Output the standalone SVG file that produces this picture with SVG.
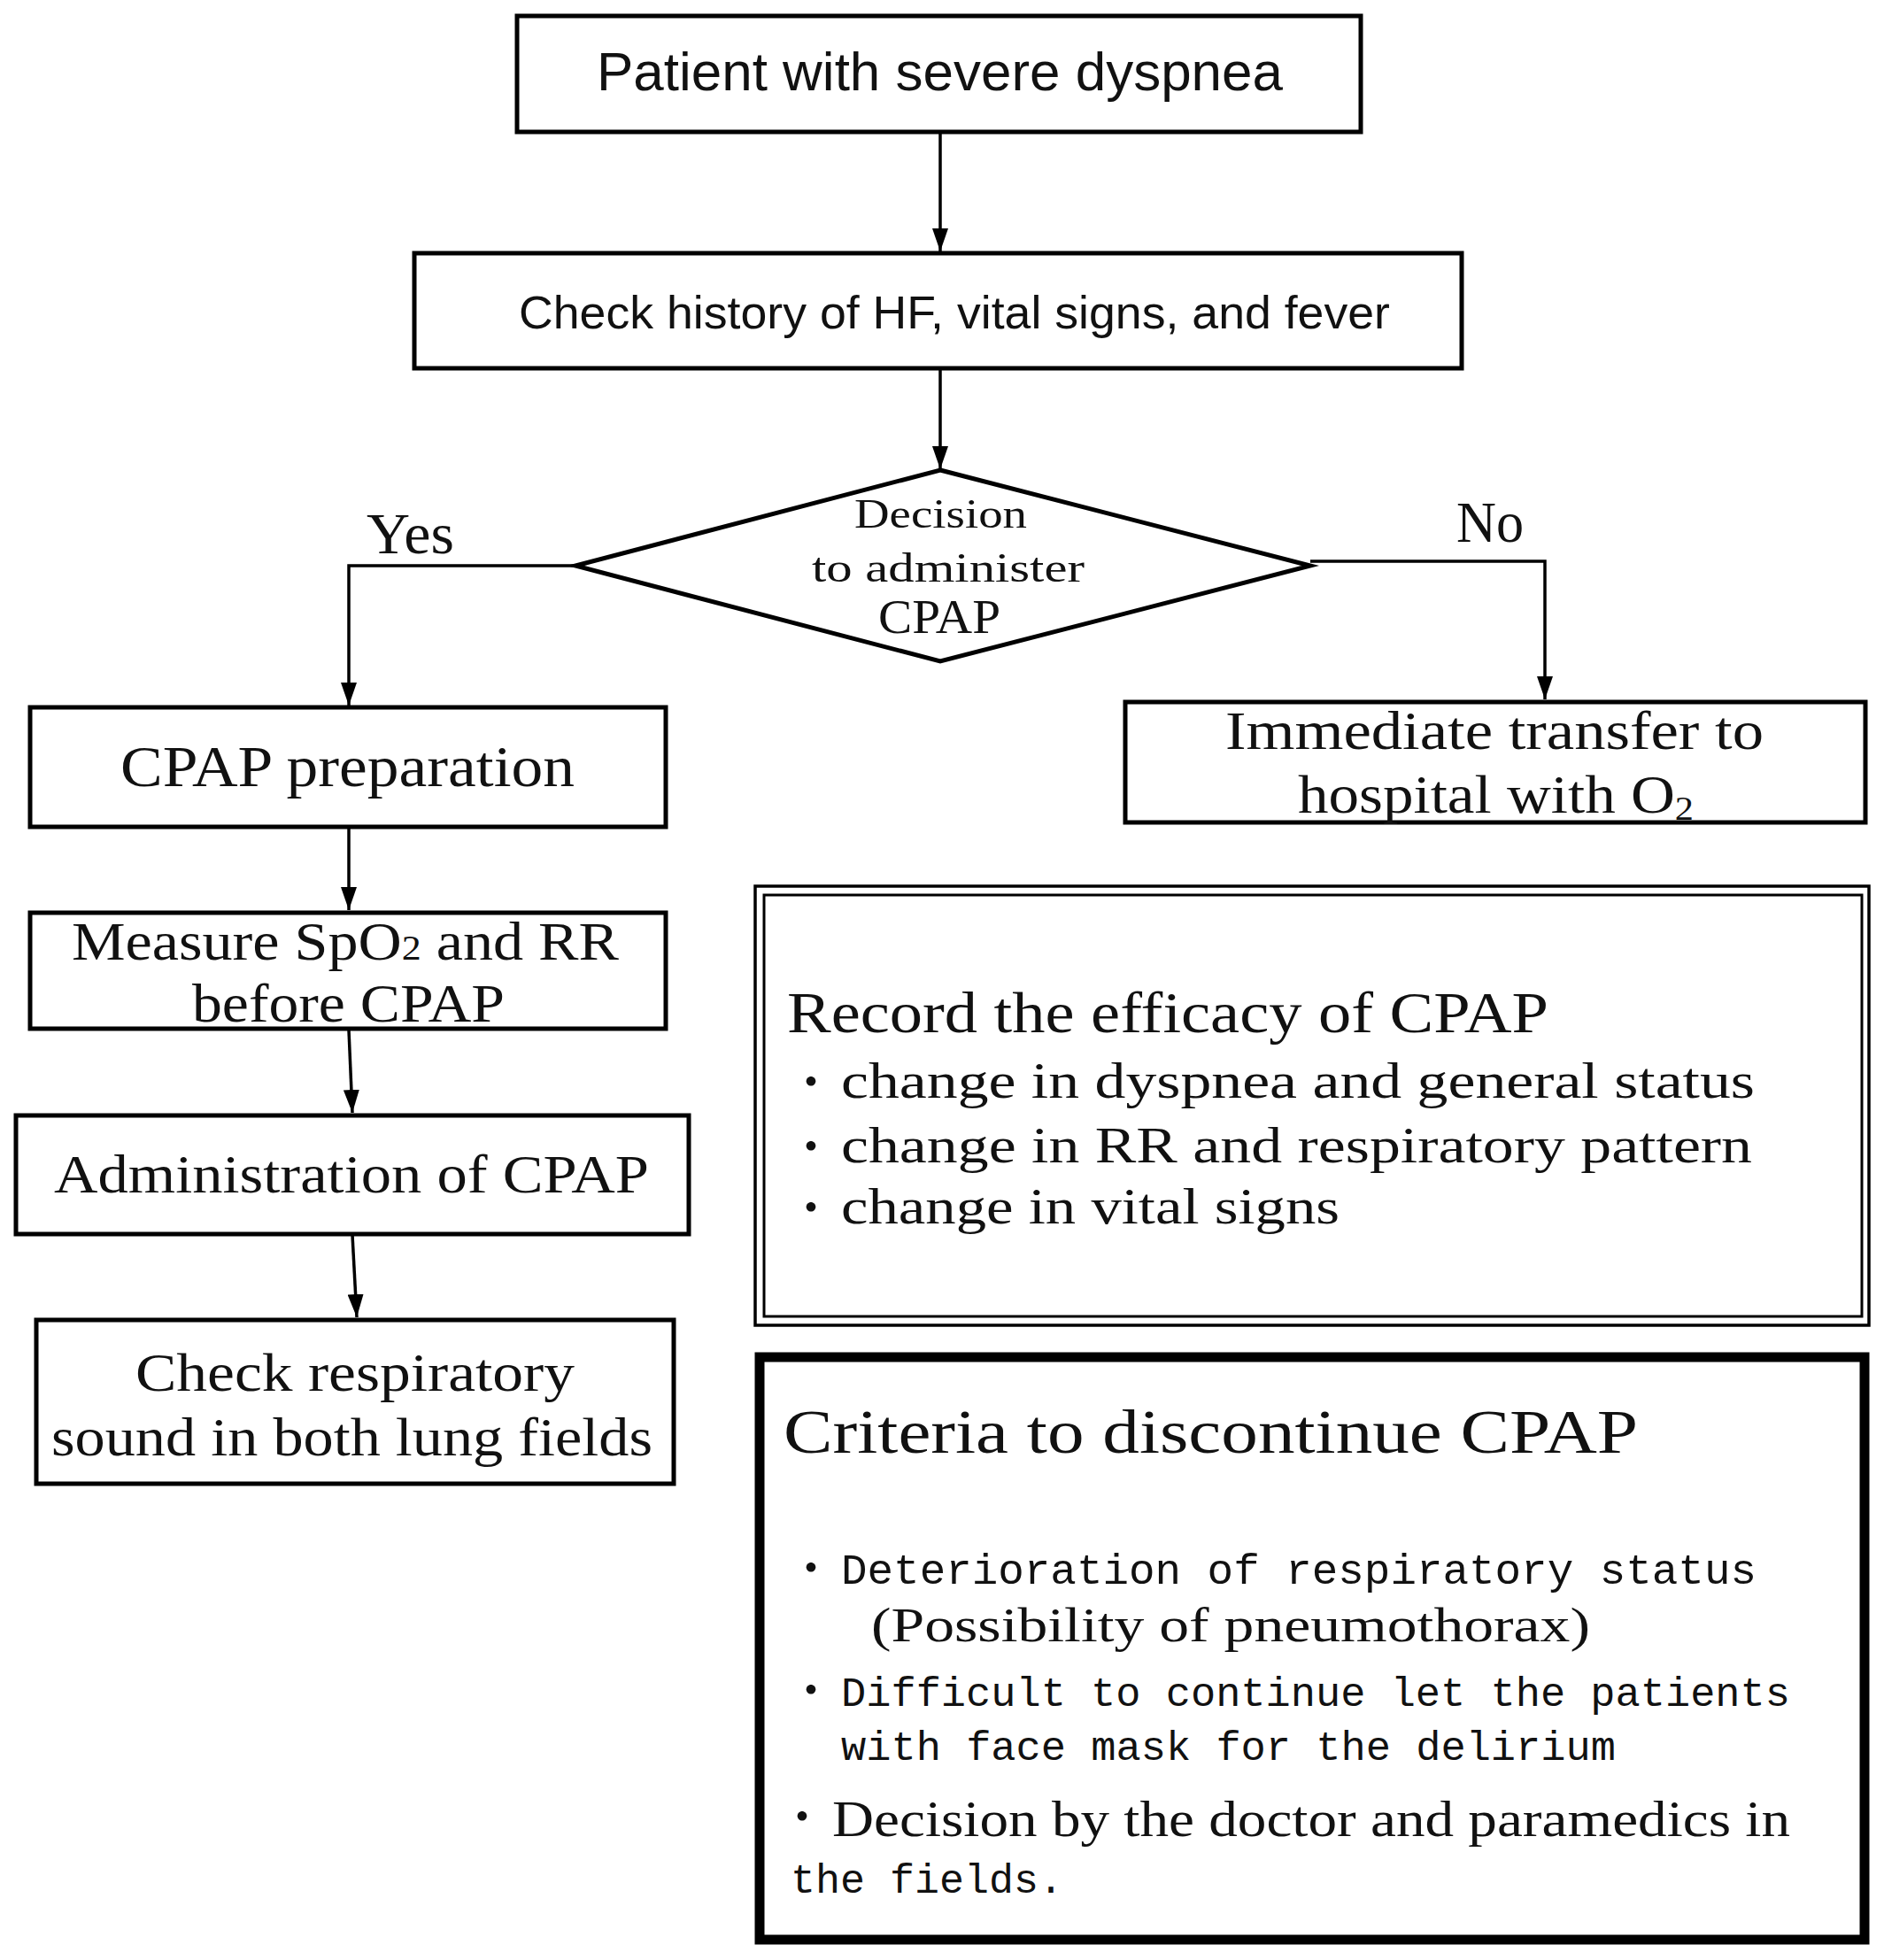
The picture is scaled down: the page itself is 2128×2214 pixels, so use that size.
<svg xmlns="http://www.w3.org/2000/svg" width="2128" height="2214" viewBox="0 0 2128 2214">
<style>
.box{fill:#fff;stroke:#000;stroke-width:5}
.ln{fill:none;stroke:#000;stroke-width:3.5}
.sans{font-family:"Liberation Sans","Noto Sans",sans-serif;fill:#111}
.serif{font-family:"Liberation Serif","DejaVu Serif",serif;fill:#111}
.mono{font-family:"Liberation Mono","DejaVu Sans Mono",monospace;fill:#111}
.dot{font-family:"Noto Sans CJK JP","Noto Sans",sans-serif;fill:#111;font-size:50px;text-anchor:middle}
</style>
<defs>
<marker id="ah" markerUnits="userSpaceOnUse" viewBox="0 0 26 18" refX="26" refY="9" markerWidth="26" markerHeight="18" orient="auto">
<path d="M0,0 L26,9 L0,18 z" fill="#000"/>
</marker>
</defs>
<rect width="2128" height="2214" fill="#fff"/>
<g id="connectors">
<line class="ln" x1="1062" y1="150" x2="1062" y2="284" marker-end="url(#ah)"/>
<line class="ln" x1="1062" y1="416" x2="1062" y2="530" marker-end="url(#ah)"/>
<polyline class="ln" points="650,639 394,639 394,797" marker-end="url(#ah)"/>
<polyline class="ln" points="1480,634 1745,634 1745,790" marker-end="url(#ah)"/>
<line class="ln" x1="394" y1="935" x2="394" y2="1028" marker-end="url(#ah)"/>
<line class="ln" x1="394" y1="1164" x2="398" y2="1257" marker-end="url(#ah)"/>
<line class="ln" x1="398" y1="1395" x2="403" y2="1488" marker-end="url(#ah)"/>
</g>
<g id="n1">
<rect class="box" x="584" y="18" width="953" height="131"/>
<text class="sans" x="674" y="102" font-size="61" textLength="775" lengthAdjust="spacingAndGlyphs">Patient with severe dyspnea</text>
</g>
<g id="n2">
<rect class="box" x="468" y="286" width="1183" height="130"/>
<text class="sans" x="586" y="371" font-size="52" textLength="984" lengthAdjust="spacingAndGlyphs">Check history of HF, vital signs, and fever</text>
</g>
<g id="n3">
<polygon class="box" points="1062,531 1480,639 1062,747 650,639"/>
<text class="serif" x="965" y="596" font-size="47" textLength="195" lengthAdjust="spacingAndGlyphs">Decision</text>
<text class="serif" x="917" y="657" font-size="47" textLength="308" lengthAdjust="spacingAndGlyphs">to administer</text>
<text class="serif" x="992" y="715" font-size="54" textLength="138" lengthAdjust="spacingAndGlyphs">CPAP</text>
</g>
<g id="labels">
<text class="serif" x="414" y="625" font-size="66" textLength="99" lengthAdjust="spacingAndGlyphs">Yes</text>
<text class="serif" x="1645" y="612" font-size="66" textLength="76" lengthAdjust="spacingAndGlyphs">No</text>
</g>
<g id="n4">
<rect class="box" x="34" y="799" width="718" height="135"/>
<text class="serif" x="136" y="888" font-size="66" textLength="513" lengthAdjust="spacingAndGlyphs">CPAP preparation</text>
</g>
<g id="n5">
<rect class="box" x="1271" y="793" width="836" height="136"/>
<text class="serif" x="1384" y="846" font-size="62" textLength="608" lengthAdjust="spacingAndGlyphs">Immediate transfer to</text>
<text class="serif" x="1466" y="918" font-size="62" textLength="447" lengthAdjust="spacingAndGlyphs">hospital with O<tspan font-size="38" dy="8">2</tspan></text>
</g>
<g id="n6">
<rect class="box" x="34" y="1031" width="718" height="131"/>
<text class="serif" x="81" y="1084" font-size="62" textLength="618" lengthAdjust="spacingAndGlyphs">Measure SpO<tspan font-size="40">2</tspan> and RR</text>
<text class="serif" x="217" y="1154" font-size="62" textLength="353" lengthAdjust="spacingAndGlyphs">before CPAP</text>
</g>
<g id="n7">
<rect class="box" x="18" y="1260" width="760" height="134"/>
<text class="serif" x="61" y="1347" font-size="61" textLength="672" lengthAdjust="spacingAndGlyphs">Administration of CPAP</text>
</g>
<g id="n8">
<rect class="box" x="41" y="1491" width="720" height="185"/>
<text class="serif" x="153" y="1571" font-size="61" textLength="496" lengthAdjust="spacingAndGlyphs">Check respiratory</text>
<text class="serif" x="58" y="1644" font-size="61" textLength="679" lengthAdjust="spacingAndGlyphs">sound in both lung fields</text>
</g>
<g id="n9">
<rect x="853" y="1001" width="1258" height="496" fill="#fff" stroke="#000" stroke-width="3.5"/>
<rect x="863" y="1011" width="1240" height="476" fill="none" stroke="#000" stroke-width="3"/>
<text class="serif" x="889" y="1166" font-size="65" textLength="860" lengthAdjust="spacingAndGlyphs">Record the efficacy of CPAP</text>
<text class="dot" x="916" y="1240">・</text>
<text class="serif" x="950" y="1240" font-size="58" textLength="1032" lengthAdjust="spacingAndGlyphs">change in dyspnea and general status</text>
<text class="dot" x="916" y="1313">・</text>
<text class="serif" x="950" y="1313" font-size="58" textLength="1029" lengthAdjust="spacingAndGlyphs">change in RR and respiratory pattern</text>
<text class="dot" x="916" y="1382">・</text>
<text class="serif" x="950" y="1382" font-size="58" textLength="563" lengthAdjust="spacingAndGlyphs">change in vital signs</text>
</g>
<g id="n10">
<rect x="858" y="1533" width="1248" height="658" fill="#fff" stroke="#000" stroke-width="11"/>
<text class="serif" x="885" y="1641" font-size="70" textLength="965" lengthAdjust="spacingAndGlyphs">Criteria to discontinue CPAP</text>
<text class="dot" x="916" y="1789">・</text>
<text class="mono" x="950" y="1789" font-size="48" textLength="1034" lengthAdjust="spacingAndGlyphs">Deterioration of respiratory status</text>
<text class="serif" x="984" y="1854" font-size="54" textLength="812" lengthAdjust="spacingAndGlyphs">(Possibility of pneumothorax)</text>
<text class="dot" x="916" y="1927">・</text>
<text class="mono" x="950" y="1927" font-size="47" textLength="1072" lengthAdjust="spacingAndGlyphs">Difficult to continue let the patients</text>
<text class="mono" x="950" y="1988" font-size="47" textLength="875" lengthAdjust="spacingAndGlyphs">with face mask for the delirium</text>
<text class="dot" x="906" y="2070">・</text>
<text class="serif" x="940" y="2074" font-size="56" textLength="1082" lengthAdjust="spacingAndGlyphs">Decision by the doctor and paramedics in</text>
<text class="mono" x="893" y="2138" font-size="47" textLength="308" lengthAdjust="spacingAndGlyphs">the fields.</text>
</g>
</svg>
